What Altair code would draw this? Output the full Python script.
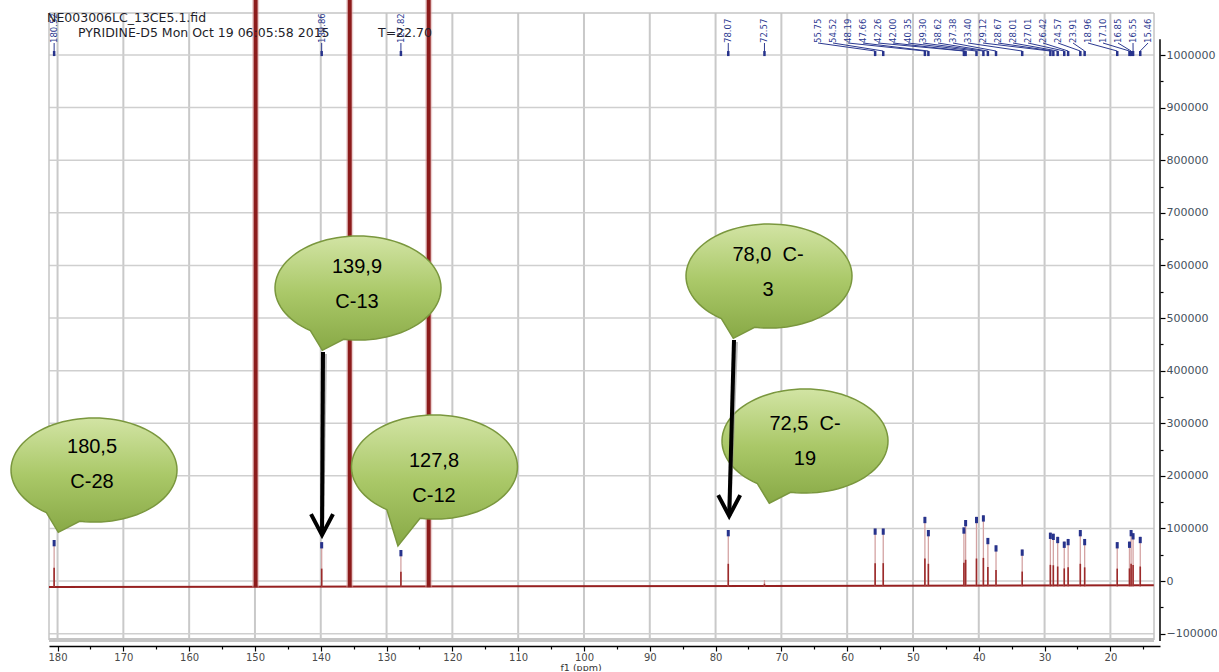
import math
import altair as alt
import pandas as pd

# ---------------------------------------------------------------------------
# 13C NMR (pyridine-d5): picked peaks, chemical shift (ppm) and height
# ---------------------------------------------------------------------------
peak_ppm = [180.52, 139.86, 127.82, 78.07, 72.57,
            55.75, 54.52, 48.19, 47.66, 42.26, 42.00, 40.35, 39.30, 38.62,
            37.38, 33.40, 29.12, 28.67, 28.01, 27.01, 26.42, 24.57, 23.91,
            18.96, 17.10, 16.85, 16.55, 15.46]
peak_height = [78000, 74000, 59000, 97000, 2000,
               100000, 100000, 122000, 97000, 102000, 116000, 122000, 125000, 82000,
               68000, 60000, 92000, 90000, 84000, 75000, 80000, 97000, 80000,
               74000, 75000, 97000, 91000, 84000]

# pyridine-d5 solvent lines (far off scale)
solvent_ppm = [149.90, 135.60, 123.60]

# spectrum baseline (drifts slightly)
baseline_ppm = [181.3, 13.4]
baseline_val = [-11500, -8000]

# axis ticks
x_ticks = list(range(180, 14, -5))
x_grid = list(range(180, 19, -10))
y_ticks = list(range(-100000, 1000001, 50000))
y_grid = list(range(-100000, 1000001, 100000))

# assignment callouts
callout_lines = [["180,5", "C-28"], ["139,9", "C-13"], ["127,8", "C-12"],
                 ["78,0\u00a0 C-", "3"], ["72,5\u00a0 C-", "19"]]
callout_ppm = [174.46, 134.34, 122.72, 71.88, 66.41]
callout_val = [211000, 557000, 216700, 579800, 266200]
callout_tail = ["short", "short", "long", "short", "short"]
callout_text_ppm = [174.76, 134.49, 122.79, 72.03, 66.41]
callout_text_mid = [221500, 564600, 194900, 586500, 266200]

# arrows pointing at C-13 and C-3
arrow_ppm = [139.66, 77.20]
arrow_ppm2 = [139.81, 77.93]
arrow_top = [435300, 458200]
arrow_tip = [87400, 123600]

header_lines = ["NE003006LC_13CE5.1.fid", "PYRIDINE-D5  Mon Oct 19 06:05:58 2015", "T=22.70"]
header_ppm = [181.60, 176.90, 131.30]
header_val = [1062700, 1034200, 1034200]

# ---------------------------------------------------------------------------
W, H = 1111, 641
X_LO, X_HI = 12.46, 181.3
Y_LO, Y_HI = -114000, 1104600
UNIT_PER_PX = (Y_HI - Y_LO) / H
FRAME_TOP = 1079800
FRAME_BOTTOM = -112200
FRAME_RIGHT = 13.37

xs = alt.Scale(domain=[X_LO, X_HI], reverse=True, nice=False, zero=False)
ys = alt.Scale(domain=[Y_LO, Y_HI], nice=False, zero=False)

major10 = "datum.value % 10 === 0"
x_axis = alt.Axis(values=x_ticks, title="f1 (ppm)", offset=5, grid=False,
                  labelExpr=f"{major10} ? datum.value : ''",
                  tickSize={"condition": {"test": major10, "value": 5}, "value": 3},
                  tickColor="black", tickWidth=1.2, domainColor="black", domainWidth=1.5,
                  labelFont="DejaVu Sans", labelFontSize=10, labelColor="#4a4a4a",
                  labelPadding=1, titleFont="DejaVu Sans", titleFontSize=9.5,
                  titleFontWeight="normal", titleColor="#333333", titlePadding=0,
                  titleX=511, titleAnchor="start", titleAlign="left")
major1e5 = "datum.value % 100000 === 0"
y_axis = alt.Axis(values=y_ticks, orient="right", title="", grid=False, domain=False,
                  format="d", labelExpr=f"{major1e5} ? datum.label : ''",
                  tickSize={"condition": {"test": major1e5, "value": 5}, "value": 3},
                  tickColor="black", tickWidth=1.2,
                  labelFont="DejaVu Sans", labelFontSize=11, labelColor="#46525e",
                  labelPadding=1)


def X(f="ppm"):
    return alt.X(f"{f}:Q", scale=xs, axis=x_axis, title="f1 (ppm)")


def Y(f="val"):
    return alt.Y(f"{f}:Q", scale=ys, axis=y_axis, title="")


# ---------------------------------------------------------------------------
# grid and frame
vgrid = alt.Chart(pd.DataFrame({"ppm": x_grid, "val": FRAME_BOTTOM, "val2": FRAME_TOP})).mark_rule(
    color="#c9c9c9", strokeWidth=2).encode(x=X(), y=Y(), y2="val2:Q")
hgrid = alt.Chart(pd.DataFrame({"val": y_grid, "ppm": X_HI, "ppm2": FRAME_RIGHT})).mark_rule(
    color="#cfcfcf", strokeWidth=1.5).encode(y=Y(), x=X(), x2="ppm2:Q")
frame_h = alt.Chart(pd.DataFrame({"val": [FRAME_TOP, FRAME_BOTTOM], "w": [1.5, 4],
                                  "ppm": X_HI, "ppm2": FRAME_RIGHT})).mark_rule(
    color="#c4c4c4").encode(y=Y(), x=X(), x2="ppm2:Q",
                            strokeWidth=alt.StrokeWidth("w:Q", scale=None))
frame_v = alt.Chart(pd.DataFrame({"ppm": [X_HI, FRAME_RIGHT], "val": FRAME_BOTTOM,
                                  "val2": FRAME_TOP})).mark_rule(
    color="#c4c4c4", strokeWidth=1.5).encode(x=X(), y=Y(), y2="val2:Q")
yaxis_line = alt.Chart(pd.DataFrame({"ppm": [X_LO], "val": [Y_LO], "val2": [1030000]})).mark_rule(
    color="black", strokeWidth=1.5).encode(x=X(), y=Y(), y2="val2:Q")

# spectrum
base = alt.Chart(pd.DataFrame({"ppm": baseline_ppm, "val": baseline_val})).mark_line(
    color="#962020", strokeWidth=2).encode(x=X(), y=Y())

peaks = pd.DataFrame({"ppm": peak_ppm, "val": peak_height})
peaks["base"] = -10000
peaks["low"] = peaks["base"] + 0.4 * (peaks["val"] - peaks["base"])
peaks["cap"] = peaks["val"] - 12000

peak_pale = alt.Chart(peaks).mark_rule(color="#d4a3a3", strokeWidth=1.3).encode(
    x=X(), y=Y("base"), y2="val:Q")
peak_dark = alt.Chart(peaks).mark_rule(color="#9c2a2a", strokeWidth=1.6).encode(
    x=X(), y=Y("base"), y2="low:Q")
peak_cap = alt.Chart(peaks[peaks["val"] > 10000]).mark_rule(color="#27338c", strokeWidth=3).encode(
    x=X(), y=Y("cap"), y2="val:Q")

solvent = pd.DataFrame({"ppm": solvent_ppm, "val": -12000, "val2": Y_HI})
solv_halo = alt.Chart(solvent).mark_rule(color="#d8a0a0", strokeWidth=7, opacity=0.5).encode(
    x=X(), y=Y(), y2="val2:Q")
solv_line = alt.Chart(solvent).mark_rule(color="#8c1b1b", strokeWidth=4).encode(
    x=X(), y=Y(), y2="val2:Q")

# peak labels along the top, with leader lines down to each peak
cluster = [p for p in peak_ppm if p < 60]
lab_left, lab_right = 64.43, 14.28
step = (lab_left - lab_right) / (len(cluster) - 1)
label_x = [p if p >= 60 else lab_left - cluster.index(p) * step for p in peak_ppm]
labels = pd.DataFrame({"ppm": peak_ppm, "lx": label_x,
                       "label": [f"{p:.2f}" for p in peak_ppm]})
labels["ytext"] = 1022800
labels["yjoin"] = 1007600
labels["ytick"] = 998000
lab_text = alt.Chart(labels).mark_text(angle=270, align="left", baseline="middle",
                                       font="DejaVu Sans", fontSize=8.5, color="#2b3990").encode(
    x=X("lx"), y=Y("ytext"), text="label:N")
lab_lead = alt.Chart(labels).mark_rule(color="#2b3990", strokeWidth=1).encode(
    x=X("lx"), x2="ppm:Q", y=Y("ytext"), y2="yjoin:Q")
lab_tick = alt.Chart(labels).mark_rule(color="#27338c", strokeWidth=2.5).encode(
    x=X(), y=Y("yjoin"), y2="ytick:Q")

header = alt.Chart(pd.DataFrame({"ppm": header_ppm, "val": header_val, "t": header_lines})).mark_text(
    align="left", baseline="alphabetic", font="DejaVu Sans", fontSize=12.5, color="#1e1e2a").encode(
    x=X(), y=Y(), text="t:N")


# ---------------------------------------------------------------------------
# speech-bubble callouts
def bubble_path(tip, ry=0.627, a_left=125, a_right=100, n=90):
    def ell(a):
        r = math.radians(a)
        return math.cos(r), ry * math.sin(r)
    lb, rb = ell(a_left), ell(a_right)
    cmds = [f"M {lb[0]:.4f} {lb[1]:.4f}", f"L {tip[0]:.4f} {tip[1]:.4f}",
            f"L {rb[0]:.4f} {rb[1]:.4f}"]
    sweep = 360 - (a_left - a_right)
    for i in range(1, n + 1):
        x, y = ell(a_right - i * sweep / n)
        cmds.append(f"L {x:.4f} {y:.4f}")
    cmds.append("Z")
    return " ".join(cmds)


tail_shapes = {"short": bubble_path((-0.43, 0.75)), "long": bubble_path((-0.44, 0.95))}
bubbles = pd.DataFrame({"ppm": callout_ppm, "val": callout_val, "tail": callout_tail})
green = alt.LinearGradient(gradient="linear", x1=0, x2=0, y1=0, y2=1,
                           stops=[alt.GradientStop(color="#d2e4a4", offset=0),
                                  alt.GradientStop(color="#aac868", offset=0.5),
                                  alt.GradientStop(color="#88a946", offset=1)])
bubble = alt.Chart(bubbles).mark_point(filled=True, fill=green, stroke="#7a973e",
                                       strokeWidth=1.5, opacity=1, fillOpacity=1,
                                       size=166 ** 2).encode(
    x=X(), y=Y(),
    shape=alt.Shape("tail:N", legend=None,
                    scale=alt.Scale(domain=list(tail_shapes), range=list(tail_shapes.values()))))

gap = 17.5 * UNIT_PER_PX
rows = []
for lines, px, mid in zip(callout_lines, callout_text_ppm, callout_text_mid):
    rows.append({"ppm": px, "val": mid + gap, "t": lines[0]})
    rows.append({"ppm": px, "val": mid - gap, "t": lines[1]})
bubble_text = alt.Chart(pd.DataFrame(rows)).mark_text(
    font="Liberation Sans", fontSize=20, color="black", align="center", baseline="middle").encode(
    x=X(), y=Y(), text="t:N")

arrows = pd.DataFrame({"ppm": arrow_ppm, "ppm2": arrow_ppm2, "val": arrow_top, "val2": arrow_tip})
arrow_shadow = alt.Chart(arrows).mark_rule(color="#8f8f8f", strokeWidth=4, opacity=0.6,
                                           xOffset=2, yOffset=2).encode(
    x=X(), x2="ppm2:Q", y=Y(), y2="val2:Q")
arrow_line = alt.Chart(arrows).mark_rule(color="black", strokeWidth=4).encode(
    x=X(), x2="ppm2:Q", y=Y(), y2="val2:Q")
arrow_head = alt.Chart(arrows).mark_point(shape="M -1 -1.9 L 0 0 L 1 -1.9", filled=False,
                                          stroke="black", strokeWidth=4, opacity=1,
                                          size=22 ** 2, strokeJoin="miter").encode(
    x=X("ppm2"), y=Y("val2"))

chart = alt.layer(
    vgrid, hgrid, frame_h, frame_v, yaxis_line,
    base, peak_pale, peak_dark, peak_cap, solv_halo, solv_line,
    lab_lead, lab_tick, lab_text, header,
    bubble, bubble_text, arrow_shadow, arrow_line, arrow_head,
).properties(
    width=W, height=H,
    padding={"left": 49, "top": 0, "right": 57, "bottom": 30},
    autosize=alt.AutoSizeParams(type="none"),
    background="white",
).configure_view(stroke=None)

chart.save("out.html", embed_options={"renderer": "svg", "actions": False})
